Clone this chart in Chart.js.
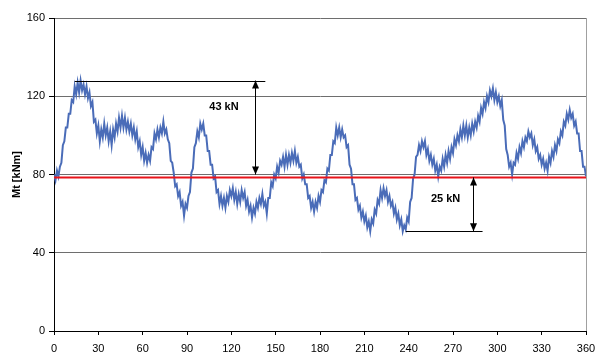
<!DOCTYPE html>
<html>
<head>
<meta charset="utf-8">
<script src="https://cdn.jsdelivr.net/npm/chart.js@4"></script>
<style>
html,body{margin:0;padding:0;background:#fff;}
#wrap{width:608px;height:353px;position:relative;}
</style>
</head>
<body>
<div id="wrap"><canvas id="c"></canvas></div>
<script>
// Angle in degrees (one value per degree, 0..360)
const angleDeg = Array.from({length: 361}, (_, i) => i);
// Torque Mt [kNm]
const torqueMt = [
80,77,82,79,84,86,95,97,104,104,111,
111,118,117,125,121,127,122,128,123,126,
121,125,119,122,115,117,107,108,101,105,
97,103,99,106,100,104,97,102,95,103,
99,106,102,109,104,110,104,109,103,107,
102,106,100,104,98,102,94,97,90,94,
87,91,86,90,87,94,93,101,98,103,
99,104,101,107,101,103,98,96,87,86,
81,74,75,69,71,64,66,59,65,63,
69,71,81,83,94,96,102,99,106,103,
106,100,100,92,92,85,85,78,79,71,
72,65,69,64,68,63,69,66,72,69,
73,67,71,65,70,66,72,68,71,64,
67,61,64,58,63,60,66,63,68,65,
70,64,66,60,68,68,76,74,80,78,
84,81,87,85,89,84,90,85,90,86,
91,87,92,86,89,84,85,78,80,75,
75,68,69,63,66,61,66,63,69,66,
72,71,77,76,83,82,90,90,97,96,
104,100,104,99,103,99,100,94,95,85,
83,75,75,67,68,62,64,58,61,56,
59,53,56,51,57,55,62,60,67,65,
72,68,73,69,72,66,69,64,66,60,
63,57,60,54,57,51,54,52,58,56,
66,68,78,80,89,90,95,92,97,94,
97,90,93,87,90,85,88,82,85,79,
84,82,88,84,90,86,92,88,94,91,
98,95,100,97,103,99,105,100,105,99,
104,100,106,102,107,104,110,107,114,111,
117,114,120,117,123,120,124,118,122,117,
120,115,118,108,105,93,90,84,86,80,
86,85,91,88,94,91,97,94,99,97,
102,99,101,95,98,92,94,88,90,85,
88,83,86,82,89,86,92,89,95,92,
98,96,102,100,107,105,111,108,113,109,
111,105,107,101,101,92,92,84,84,79
];
// Reference line (red) and annotation data
const refLineX = [0, 360];
const refLineY = [78.5, 78.5];
const xTicks = [0, 30, 60, 90, 120, 150, 180, 210, 240, 270, 300, 330, 360];
const yTicks = [0, 40, 80, 120, 160];
const annoUpper = {lineY: 128, lineX0: 14, lineX1: 143, arrowX: 136, arrowFrom: 128, arrowTo: 80, label: '43 kN', labelX: 115, labelY: 114.5};
const annoLower = {lineY: 51, lineX0: 238, lineX1: 290, arrowX: 283.5, arrowFrom: 78.5, arrowTo: 51, label: '25 kN', labelX: 265, labelY: 67.5};

const FONT = '"Liberation Sans", Arial, sans-serif';

const annoPlugin = {
  id: 'anno',
  afterDatasetsDraw(chart) {
    const ctx = chart.ctx;
    const xs = chart.scales.x, ys = chart.scales.y;
    function head(x, y, dir) {
      ctx.beginPath();
      ctx.moveTo(x, y);
      ctx.lineTo(x - 3.5, y - dir * 8);
      ctx.lineTo(x + 3.5, y - dir * 8);
      ctx.closePath();
      ctx.fill();
    }
    [annoUpper, annoLower].forEach(a => {
      ctx.save();
      ctx.strokeStyle = '#000';
      ctx.fillStyle = '#000';
      ctx.lineWidth = 1;
      const ly = Math.round(ys.getPixelForValue(a.lineY)) + 0.5;
      ctx.beginPath();
      ctx.moveTo(xs.getPixelForValue(a.lineX0), ly);
      ctx.lineTo(xs.getPixelForValue(a.lineX1), ly);
      ctx.stroke();
      const ax = Math.round(xs.getPixelForValue(a.arrowX)) + 0.5;
      const y0 = ys.getPixelForValue(a.arrowFrom);
      const y1 = ys.getPixelForValue(a.arrowTo);
      ctx.beginPath();
      ctx.moveTo(ax, y0);
      ctx.lineTo(ax, y1);
      ctx.stroke();
      const top = Math.min(y0, y1), bot = Math.max(y0, y1);
      head(ax, top, -1);
      head(ax, bot, 1);
      ctx.font = 'bold 11px ' + FONT;
      ctx.textAlign = 'center';
      ctx.textBaseline = 'middle';
      ctx.fillText(a.label, xs.getPixelForValue(a.labelX), ys.getPixelForValue(a.labelY));
      ctx.restore();
    });
  }
};

new Chart(document.getElementById('c'), {
  type: 'line',
  data: {
    datasets: [
      {
        data: refLineX.map((x, i) => ({x, y: refLineY[i]})),
        borderColor: '#e8141b',
        borderWidth: 2,
        pointRadius: 0,
        order: 0
      },
      {
        data: angleDeg.map((x, i) => ({x, y: torqueMt[i]})),
        borderColor: '#4a6cb8',
        borderWidth: 2,
        pointRadius: 0,
        tension: 0,
        order: 1
      }
    ]
  },
  options: {
    responsive: true,
    maintainAspectRatio: false,
    animation: false,
    events: [],
    layout: {padding: {top: 18, right: 22, left: 0, bottom: 0}},
    plugins: {legend: {display: false}, tooltip: {enabled: false}},
    scales: {
      x: {
        type: 'linear',
        min: 0, max: 360,
        afterBuildTicks(s) { s.ticks = xTicks.map(v => ({value: v})); },
        afterFit(s) { s.height = 22; },
        ticks: {font: {family: FONT, size: 11}, color: '#000', padding: 7, maxRotation: 0, autoSkip: false},
        grid: {
          color: c => c.tick && c.tick.value === 360 ? '#a0a0a0' : 'rgba(0,0,0,0)',
          tickColor: '#000',
          tickLength: 4,
          lineWidth: 1
        },
        border: {color: '#000', width: 1}
      },
      y: {
        min: 0, max: 160,
        afterBuildTicks(s) { s.ticks = yTicks.map(v => ({value: v})); },
        afterFit(s) { s.width = 54; },
        ticks: {font: {family: FONT, size: 11}, color: '#000', padding: 4},
        grid: {
          color: c => c.tick && c.tick.value === 0 ? '#000' : '#6e6e6e',
          tickColor: '#000',
          tickLength: 5,
          lineWidth: 1
        },
        border: {color: '#000', width: 1},
        title: {display: true, text: 'Mt [kNm]', font: {family: FONT, size: 11, weight: 'bold'}, color: '#000', padding: {top: 10, bottom: 0}}
      }
    }
  },
  plugins: [annoPlugin]
});
</script>
</body>
</html>
